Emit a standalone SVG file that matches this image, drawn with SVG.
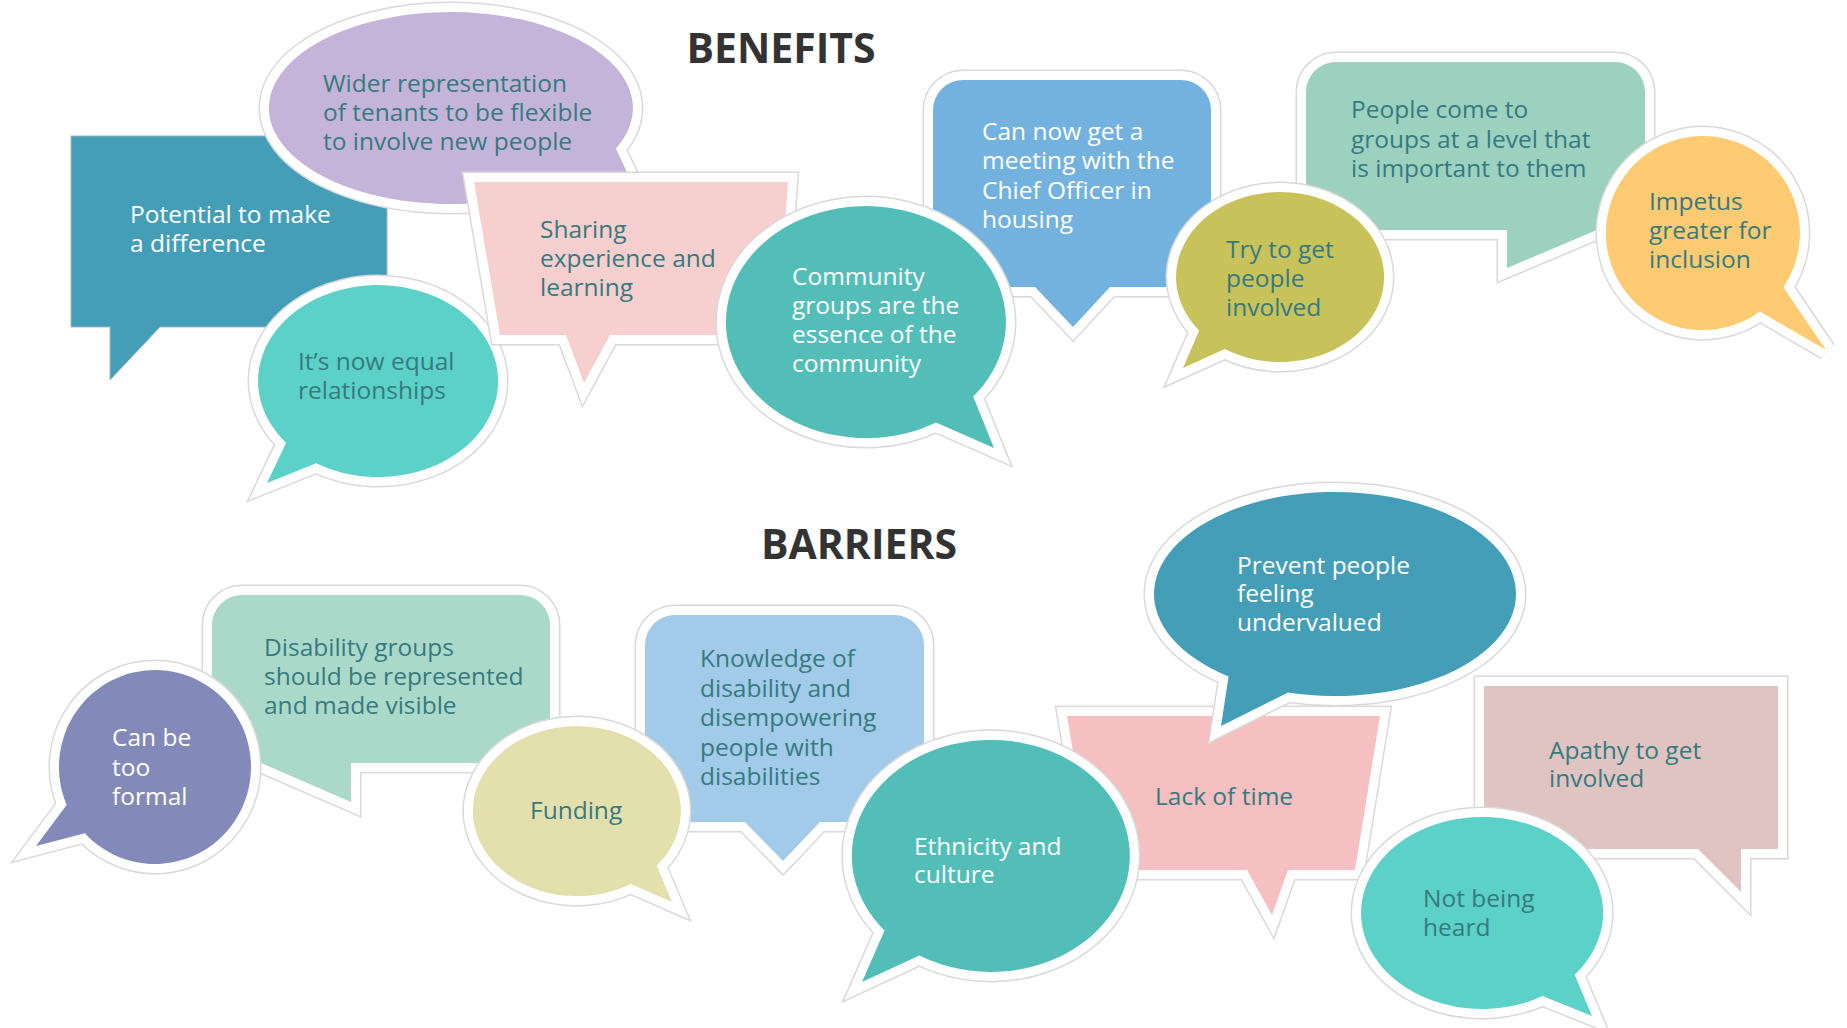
<svg xmlns="http://www.w3.org/2000/svg" width="1847" height="1028" viewBox="0 0 1847 1028">
<style>
.halo{fill:none;stroke:#d9d9d9;stroke-width:21}
.rim{fill:none;stroke:#fff;stroke-width:18}
.t{font-family:"Open Sans","Liberation Sans",sans-serif;font-size:24.5px}
.w{fill:#fff}
.d{fill:#367a80}
.title{font-family:"Open Sans","Liberation Sans",sans-serif;font-weight:700;font-size:41px;fill:#333;text-anchor:middle}
</style>
<defs>
<path id="s1" d="M71,136 H387 V327 H160 L110,380 V327 H71 Z"/>
<path id="s2" d="M615.9,148.6 L640,200 L579.7,175.9 A182,96 0 1 1 615.9,148.6 Z"/>
<path id="s3" d="M316.2,463.3 L267,483 L286.1,442.7 A120,96 0 1 1 316.2,463.3 Z"/>
<path id="s4" d="M474,182 H788 L777,335 H610 L584,383 L566,335 H500 Z"/>
<path id="s5" d="M963,80 H1181 A30,30 0 0 1 1211,110 V287 H1110 L1073,327 L1035,287 H933 V110 A30,30 0 0 1 963,80 Z"/>
<path id="s6" d="M973.2,396.6 L994,448 L936,422.5 A140,116 0 1 1 973.2,396.6 Z"/>
<path id="s7" d="M1336,62 H1615 A30,30 0 0 1 1645,92 V230 H1597 L1507,268 V230 H1306 V92 A30,30 0 0 1 1336,62 Z"/>
<path id="s8" d="M1224.9,349.1 L1183,368 L1199.2,330.5 A104,85 0 1 1 1224.9,349.1 Z"/>
<path id="s9" d="M1783.4,287.2 L1826,350 L1760,311.5 A97,97 0 1 1 1783.4,287.2 Z"/>
<path id="b1" d="M242,595 H520 A30,30 0 0 1 550,625 V763 H351 V802 L261,763 H212 V625 A30,30 0 0 1 242,595 Z"/>
<path id="b2" d="M84.8,833.2 L36,846 L66.6,804.9 A96,97 0 1 1 84.8,833.2 Z"/>
<path id="b3" d="M675,615 H894 A30,30 0 0 1 924,645 V822 H820 L783,861 L745,822 H645 V645 A30,30 0 0 1 675,615 Z"/>
<path id="b4" d="M656.7,865.6 L672,902 L630.6,883.9 A104,85 0 1 1 656.7,865.6 Z"/>
<path id="b5" d="M1067,716 H1380 L1355,870 H1288 L1272,915 L1247,870 H1093 Z"/>
<path id="b6" d="M919.4,955.4 L862,982 L884.5,930.6 A139,116 0 1 1 919.4,955.4 Z"/>
<path id="b7" d="M1288.1,692.5 L1221,726 L1228.6,676.5 A181,102 0 1 1 1288.1,692.5 Z"/>
<path id="b8" d="M1484,686 H1778 V849 H1741 V892 L1698,849 H1484 Z"/>
<path id="b9" d="M1574.7,974.7 L1592,1016 L1542.5,996.1 A121,96 0 1 1 1574.7,974.7 Z"/>
</defs>
<rect width="1847" height="1028" fill="#fff"/>
<g id="connectors"/>
<text class="title" x="781" y="63">BENEFITS</text>
<text class="title" x="859" y="559">BARRIERS</text>

<g id="potential">
<use href="#s1" fill="#449eb8" stroke="#9fb8c0" stroke-width="1"/>
<text class="t w"><tspan x="130" y="223">Potential to make</tspan><tspan x="130" y="252">a difference</tspan></text>
</g>
<g id="wider">
<use href="#s2" class="halo"/><use href="#s2" class="rim"/><use href="#s2" fill="#c5b4d9"/>
<text class="t d"><tspan x="323" y="92">Wider representation</tspan><tspan x="323" y="121">of tenants to be flexible</tspan><tspan x="323" y="150">to involve new people</tspan></text>
</g>
<g id="equal">
<use href="#s3" class="halo"/><use href="#s3" class="rim"/><use href="#s3" fill="#5cd1c7"/>
<text class="t d"><tspan x="298" y="370">It’s now equal</tspan><tspan x="298" y="399">relationships</tspan></text>
</g>
<g id="sharing">
<use href="#s4" class="halo"/><use href="#s4" class="rim"/><use href="#s4" fill="#f7cfcf"/>
<text class="t d"><tspan x="540" y="238">Sharing</tspan><tspan x="540" y="267">experience and</tspan><tspan x="540" y="296">learning</tspan></text>
</g>
<g id="chief">
<use href="#s5" class="halo"/><use href="#s5" class="rim"/><use href="#s5" fill="#73b2de"/>
<text class="t w"><tspan x="982" y="140">Can now get a</tspan><tspan x="982" y="169">meeting with the</tspan><tspan x="982" y="199">Chief Officer in</tspan><tspan x="982" y="228">housing</tspan></text>
</g>
<g id="community">
<use href="#s6" class="halo"/><use href="#s6" class="rim"/><use href="#s6" fill="#53beb8"/>
<text class="t w"><tspan x="792" y="285">Community</tspan><tspan x="792" y="314">groups are the</tspan><tspan x="792" y="343">essence of the</tspan><tspan x="792" y="372">community</tspan></text>
</g>
<g id="people-come">
<use href="#s7" class="halo"/><use href="#s7" class="rim"/><use href="#s7" fill="#9dd1bf"/>
<text class="t d"><tspan x="1351" y="118">People come to</tspan><tspan x="1351" y="148">groups at a level that</tspan><tspan x="1351" y="177">is important to them</tspan></text>
</g>
<g id="try">
<use href="#s8" class="halo"/><use href="#s8" class="rim"/><use href="#s8" fill="#c8c25b"/>
<text class="t d"><tspan x="1226" y="258">Try to get</tspan><tspan x="1226" y="287">people</tspan><tspan x="1226" y="316">involved</tspan></text>
</g>
<g id="impetus">
<use href="#s9" class="halo"/><use href="#s9" class="rim"/><use href="#s9" fill="#ffcb72"/>
<text class="t d"><tspan x="1649" y="210">Impetus</tspan><tspan x="1649" y="239">greater for</tspan><tspan x="1649" y="268">inclusion</tspan></text>
</g>

<g id="disability">
<use href="#b1" class="halo"/><use href="#b1" class="rim"/><use href="#b1" fill="#abd9c9"/>
<text class="t d"><tspan x="264" y="656">Disability groups</tspan><tspan x="264" y="685">should be represented</tspan><tspan x="264" y="714">and made visible</tspan></text>
</g>
<g id="formal">
<use href="#b2" class="halo"/><use href="#b2" class="rim"/><use href="#b2" fill="#838ab9"/>
<text class="t w"><tspan x="112" y="746">Can be</tspan><tspan x="112" y="776">too</tspan><tspan x="112" y="805">formal</tspan></text>
</g>
<g id="knowledge">
<use href="#b3" class="halo"/><use href="#b3" class="rim"/><use href="#b3" fill="#a2cae9"/>
<text class="t d"><tspan x="700" y="667">Knowledge of</tspan><tspan x="700" y="697">disability and</tspan><tspan x="700" y="726">disempowering</tspan><tspan x="700" y="756">people with</tspan><tspan x="700" y="785">disabilities</tspan></text>
</g>
<g id="funding">
<use href="#b4" class="halo"/><use href="#b4" class="rim"/><use href="#b4" fill="#e3e0ad"/>
<text class="t d" x="530" y="819">Funding</text>
</g>
<g id="lack">
<use href="#b5" class="halo"/><use href="#b5" class="rim"/><use href="#b5" fill="#f6bfc1"/>
<text class="t d" x="1155" y="805">Lack of time</text>
</g>
<g id="ethnicity">
<use href="#b6" class="halo"/><use href="#b6" class="rim"/><use href="#b6" fill="#53beb8"/>
<text class="t w"><tspan x="914" y="855">Ethnicity and</tspan><tspan x="914" y="883">culture</tspan></text>
</g>
<g id="prevent">
<use href="#b7" class="halo"/><use href="#b7" class="rim"/><use href="#b7" fill="#449eb8"/>
<text class="t w"><tspan x="1237" y="574">Prevent people</tspan><tspan x="1237" y="602">feeling</tspan><tspan x="1237" y="631">undervalued</tspan></text>
</g>
<g id="apathy">
<use href="#b8" class="halo"/><use href="#b8" class="rim"/><use href="#b8" fill="#e0c4c2"/>
<text class="t d"><tspan x="1549" y="759">Apathy to get</tspan><tspan x="1549" y="787">involved</tspan></text>
</g>
<g id="not-heard">
<use href="#b9" class="halo"/><use href="#b9" class="rim"/><use href="#b9" fill="#5cd1c7"/>
<text class="t d"><tspan x="1423" y="907">Not being</tspan><tspan x="1423" y="936">heard</tspan></text>
</g>
</svg>
